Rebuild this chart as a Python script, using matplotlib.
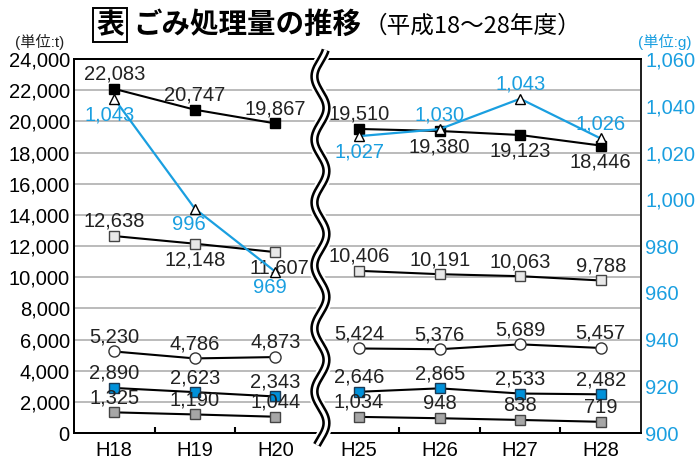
import matplotlib
matplotlib.use('Agg')
import matplotlib.pyplot as plt
import numpy as np
from matplotlib import transforms

plt.rcParams['font.family'] = ['Liberation Sans', 'Noto Sans CJK JP', 'DejaVu Sans']

# ---------------- data ----------------
categories = ['H18', 'H19', 'H20', 'H25', 'H26', 'H27', 'H28']
total_t = [22083, 20747, 19867, 19510, 19380, 19123, 18446]
per_capita_g = [1043, 996, 969, 1027, 1030, 1043, 1026]
series_b = [12638, 12148, 11607, 10406, 10191, 10063, 9788]
series_c = [5230, 4786, 4873, 5424, 5376, 5689, 5457]
series_d = [2890, 2623, 2343, 2646, 2865, 2533, 2482]
series_e = [1325, 1190, 1044, 1034, 948, 838, 719]
left_ticks = list(range(0, 24001, 2000))
right_ticks = list(range(900, 1061, 20))

# ---------------- style ----------------
BLUE = '#1a9fe0'
FS = 14.5
xs = np.array([0, 1, 2, 3.04, 4.04, 5.04, 6.04])
groups = [slice(0, 3), slice(3, 7)]

fig = plt.figure(figsize=(7.0, 4.61), dpi=100)
ax = fig.add_axes([74/700, 28/461, 567/700, 374/461])
ax2 = ax.twinx()

ax.set_xlim(-0.5, 6.54)
ax.set_ylim(0, 24000)
ax2.set_ylim(900, 1060)

ax.set_yticks(left_ticks)
ax.set_yticklabels([f'{v:,}' for v in left_ticks], fontsize=FS)
ax2.set_yticks(right_ticks)
ax2.set_yticklabels([f'{v:,}' for v in right_ticks], fontsize=FS, color=BLUE)
ax.tick_params(axis='y', length=0, pad=3)
ax2.tick_params(axis='y', length=0, pad=3, colors=BLUE)

ax.set_xticks(xs)
ax.set_xticklabels(categories, fontsize=FS)
ax.tick_params(axis='x', length=0, pad=6)
ax.set_xticks([0.5, 1.5, 3.54, 4.54, 5.54], minor=True)
ax.tick_params(axis='x', which='minor', direction='in', length=4.5, width=1.5, color='black')

for a in (ax, ax2):
    for s in a.spines.values():
        s.set_linewidth(1.4)
        s.set_color('black')
ax2.spines['right'].set_color('#222222')

for v in left_ticks[1:-1]:
    ax.axhline(v, color='#b5b5b5', lw=1.3, zorder=0.5)

def label(a, x, y, txt, where, color='#222222', dx=0):
    dy = 10.5 if where == 'a' else -11.5
    a.annotate(txt, (x, y), xytext=(dx, dy), textcoords='offset points',
               ha='center', va='center', fontsize=FS, color=color, zorder=6)

def draw(a, vals, lc, mk, mfc, mec, ms, where, tcolor='#222222', dxs=None, lw=1.5):
    vals = np.array(vals)
    for g in groups:
        a.plot(xs[g], vals[g], color=lc, lw=lw, marker=mk, ms=ms, mfc=mfc, mec=mec,
               mew=1.0, zorder=4)
    for i, (x, v) in enumerate(zip(xs, vals)):
        dx = 0 if dxs is None else dxs[i]
        label(a, x, v, f'{v:,}', where[i], tcolor, dx)

draw(ax, series_e, 'black', 's', '#a6a6a6', '#444444', 7, 'aaaaaaa')
draw(ax, series_d, 'black', 's', '#0091da', '#1a3a55', 7, 'aaaaaaa')
draw(ax, series_c, 'black', 'o', 'white', '#333333', 8, 'aaaaaaa')
draw(ax, series_b, 'black', 's', '#e8e8e8', '#444444', 7, 'abbaaaa', dxs=[0, 0, 3, 0, 0, 0, 0])
draw(ax, total_t, 'black', 's', 'black', 'black', 7, 'aaaabbb')
draw(ax2, per_capita_g, BLUE, '^', 'white', 'black', 7.5, 'bbbbaaa', tcolor=BLUE,
     dxs=[-3, -4, -4, 0, 0, 0, 0], lw=1.6)

# ---------------- axis break (double wavy line) ----------------
trans = transforms.blended_transform_factory(ax.transData, ax.transAxes)
ypx = np.linspace(50, 445, 600)
amp = 6 / 80.54
xw = 2.56 + amp * np.cos(2 * np.pi * (ypx - 108) / 63)
yw = (433 - ypx) / 374
ax2.plot(xw, yw, transform=trans, color='white', lw=9, clip_on=False, zorder=10,
         solid_capstyle='butt')
ax2.plot(xw, yw, transform=trans, color='black', lw=6.0, clip_on=False, zorder=11,
         solid_capstyle='butt')
ax2.plot(xw, yw, transform=trans, color='white', lw=2.3, clip_on=False, zorder=12,
         solid_capstyle='butt')

# ---------------- titles ----------------
fig.text(110/700, 1 - 25/461, '表', fontsize=20, fontweight='bold', ha='center',
         va='center', family=['Noto Sans CJK JP'],
         bbox=dict(boxstyle='square,pad=0.12', fc='white', ec='black', lw=1.4))
fig.text(133/700, 1 - 25/461, 'ごみ処理量の推移', fontsize=20.5, fontweight='bold',
         ha='left', va='center', family=['Noto Sans CJK JP'])
fig.text(364/700, 1 - 26/461, '（平成18～28年度）', fontsize=17, ha='left',
         va='center', family=['Noto Sans CJK JP', 'DejaVu Sans'])
fig.text(40/700, 1 - 42/461, '(単位:t)', fontsize=11, ha='center', va='center',
         color='#222222')
fig.text(665/700, 1 - 42/461, '(単位:g)', fontsize=11, ha='center', va='center',
         color=BLUE)

fig.savefig('out.png', dpi=100)
